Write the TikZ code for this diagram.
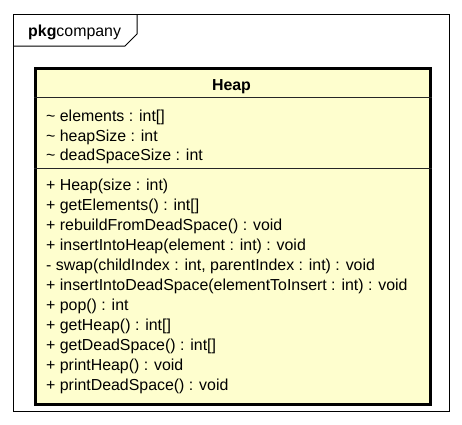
\documentclass[tikz,border=0pt]{standalone}
\usepackage{fontspec}
\setmainfont{Liberation Sans}
\definecolor{classfill}{HTML}{FEFECE}
\begin{document}
\begin{tikzpicture}[x=1pt,y=-1pt,
  member/.style={anchor=base west, inner sep=0pt, font=\fontsize{15.9}{18}\selectfont},
  frameline/.style={line width=1pt, draw=black},
  sepline/.style={line width=1pt, draw=black!85}]
\useasboundingbox (0,0) rectangle (462,424);
% package frame
\node[draw, line width=1pt, minimum width=436pt, minimum height=397pt, inner sep=0pt, anchor=north west] (pkg) at (13,14) {};
\coordinate (tabA) at (13,46);
\coordinate (tabB) at (125,46);
\coordinate (tabC) at (137,34);
\coordinate (tabD) at (137,14);
\draw[frameline] (tabA) -- (tabB) -- (tabC) -- (tabD);
\node[member] (pkglabel) at (28,36) {\textbf{pkg}company};
% class box
\node[draw, fill=classfill, line width=2.6pt, minimum width=395pt, minimum height=336pt, inner sep=0pt, anchor=north west] (heap) at (34,67) {};
\node[anchor=base, inner sep=0pt, font=\fontsize{15.9}{18}\selectfont\bfseries] (title) at (231.5,90) {Heap};
\coordinate (s1) at (0,97);
\coordinate (s2) at (0,168);
\draw[sepline] (heap.west |- s1) -- (heap.east |- s1);
\draw[sepline] (heap.west |- s2) -- (heap.east |- s2);
% attributes
\node[member] (a1) at (46,121.5) {\textasciitilde{} elements : int[]};
\node[member] (a2) at (46,141) {\textasciitilde{} heapSize : int};
\node[member] (a3) at (46,160.5) {\textasciitilde{} deadSpaceSize : int};
% methods
\node[member] (m1) at (46,190) {+ Heap(size : int)};
\node[member] (m2) at (46,210) {+ getElements() : int[]};
\node[member] (m3) at (46,230) {+ rebuildFromDeadSpace() : void};
\node[member] (m4) at (46,250) {+ insertIntoHeap(element : int) : void};
\node[member] (m5) at (46,270) {- swap(childIndex : int, parentIndex : int) : void};
\node[member] (m6) at (46,290) {+ insertIntoDeadSpace(elementToInsert : int) : void};
\node[member] (m7) at (46,310) {+ pop() : int};
\node[member] (m8) at (46,330) {+ getHeap() : int[]};
\node[member] (m9) at (46,350) {+ getDeadSpace() : int[]};
\node[member] (m10) at (46,370) {+ printHeap() : void};
\node[member] (m11) at (46,390) {+ printDeadSpace() : void};
\end{tikzpicture}
\end{document}
